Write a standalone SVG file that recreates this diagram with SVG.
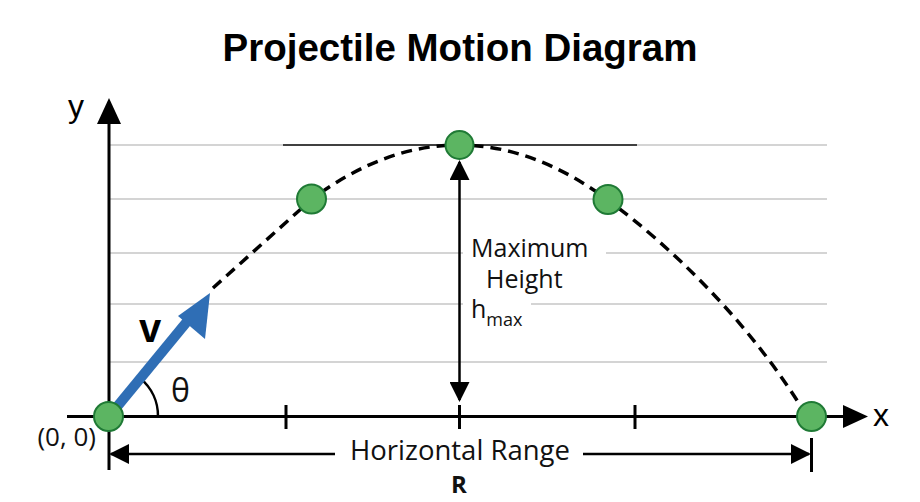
<svg xmlns="http://www.w3.org/2000/svg" width="920" height="502" viewBox="0 0 920 502">
<style>
  .grid{stroke:#c6c6c6;stroke-width:1.3;fill:none}
  .axis{stroke:#000;stroke-width:3;fill:none}
  .pt{fill:#5cb562;stroke:#1f7a35;stroke-width:2}
  .lbl{font-family:"Open Sans","DejaVu Sans",sans-serif;fill:#111}
  .arial{font-family:"Liberation Sans",Arial,sans-serif;fill:#000}
</style>
<defs>
  <marker id="ah" viewBox="0 0 20 20" refX="18" refY="10" markerWidth="20" markerHeight="20" markerUnits="userSpaceOnUse" orient="auto-start-reverse">
    <path d="M0,0 L20,10 L0,20 Z" fill="#000"/>
  </marker>
</defs>
<rect width="920" height="502" fill="#fff"/>
<text x="460" y="61" text-anchor="middle" class="arial" font-size="38.5" font-weight="bold">Projectile Motion Diagram</text>

<g id="grid">
  <line class="grid" x1="110" y1="145" x2="283" y2="145"/>
  <line class="grid" x1="637" y1="145" x2="827" y2="145"/>
  <line class="grid" x1="110" y1="199" x2="827" y2="199"/>
  <line class="grid" x1="110" y1="253" x2="827" y2="253"/>
  <line class="grid" x1="110" y1="304" x2="827" y2="304"/>
  <line class="grid" x1="110" y1="362" x2="827" y2="362"/>
  <line x1="283" y1="145" x2="637" y2="145" stroke="#000" stroke-width="1.5"/>
</g>

<g id="axes">
  <line class="axis" x1="109" y1="470" x2="109" y2="120"/>
  <path d="M97,124 L109,98 L121,124 Z" fill="#000"/>
  <line class="axis" x1="67" y1="416.5" x2="846" y2="416.5"/>
  <path d="M843,405 L868,416.5 L843,428 Z" fill="#000"/>
  <line class="axis" x1="286" y1="405" x2="286" y2="429"/>
  <line class="axis" x1="459.5" y1="405" x2="459.5" y2="429"/>
  <line class="axis" x1="635" y1="405" x2="635" y2="429"/>
  <line class="axis" x1="811.5" y1="438" x2="811.5" y2="472" stroke-width="2.5"/>
  <text x="68" y="117" class="arial" font-size="32">y</text>
  <text x="873" y="426" class="arial" font-size="32">x</text>
</g>

<g id="connectors">
  <path d="M213,288 L312,199 C362,162 410,145 459.5,145 C512,145 562,166 608,200 C670,246 745,318 800,405" fill="none" stroke="#000" stroke-width="3.5" stroke-dasharray="11,7"/>
  <line x1="459.5" y1="162" x2="459.5" y2="400" stroke="#000" stroke-width="2.5" marker-start="url(#ah)" marker-end="url(#ah)"/>
  <line x1="111" y1="454" x2="335" y2="454" stroke="#000" stroke-width="2.5" marker-start="url(#ah)"/>
  <line x1="583" y1="454" x2="809" y2="454" stroke="#000" stroke-width="2.5" marker-end="url(#ah)"/>
  <path d="M158,416.5 A49,49 0 0 0 140.5,378.5" fill="none" stroke="#000" stroke-width="2.5"/>
</g>

<g id="velocity">
  <line x1="109" y1="416.5" x2="190" y2="318" stroke="#2f6eb5" stroke-width="10"/>
  <path d="M210,293 L205,339 L178,316 Z" fill="#2f6eb5"/>
  <text x="139" y="342" class="arial" font-size="40" font-weight="bold">v</text>
  <text x="171" y="402" class="lbl" font-size="32">θ</text>
</g>

<g id="labels">
  <rect x="463" y="236" width="143" height="26" fill="#fff"/>
  <rect x="463" y="292" width="68" height="36" fill="#fff"/>
  <text x="471" y="257" class="lbl" font-size="25">Maximum</text>
  <text x="486" y="288" class="lbl" font-size="25">Height</text>
  <text x="471" y="318" class="lbl" font-size="25">h<tspan font-size="18" dy="8">max</tspan></text>
  <text x="96" y="446" text-anchor="end" class="lbl" font-size="26">(0, 0)</text>
  <text x="460" y="460" text-anchor="middle" class="lbl" font-size="27.5">Horizontal Range</text>
  <text x="459" y="493" text-anchor="middle" class="lbl" font-size="24" font-weight="bold">R</text>
</g>

<g id="p0"><circle class="pt" cx="108.5" cy="416.5" r="14.5"/></g>
<g id="p1"><circle class="pt" cx="311.5" cy="199" r="14.5"/></g>
<g id="p2"><circle class="pt" cx="459.5" cy="145" r="14"/></g>
<g id="p3"><circle class="pt" cx="608" cy="199.5" r="14.5"/></g>
<g id="p4"><circle class="pt" cx="811.5" cy="416.5" r="14.5"/></g>
</svg>
